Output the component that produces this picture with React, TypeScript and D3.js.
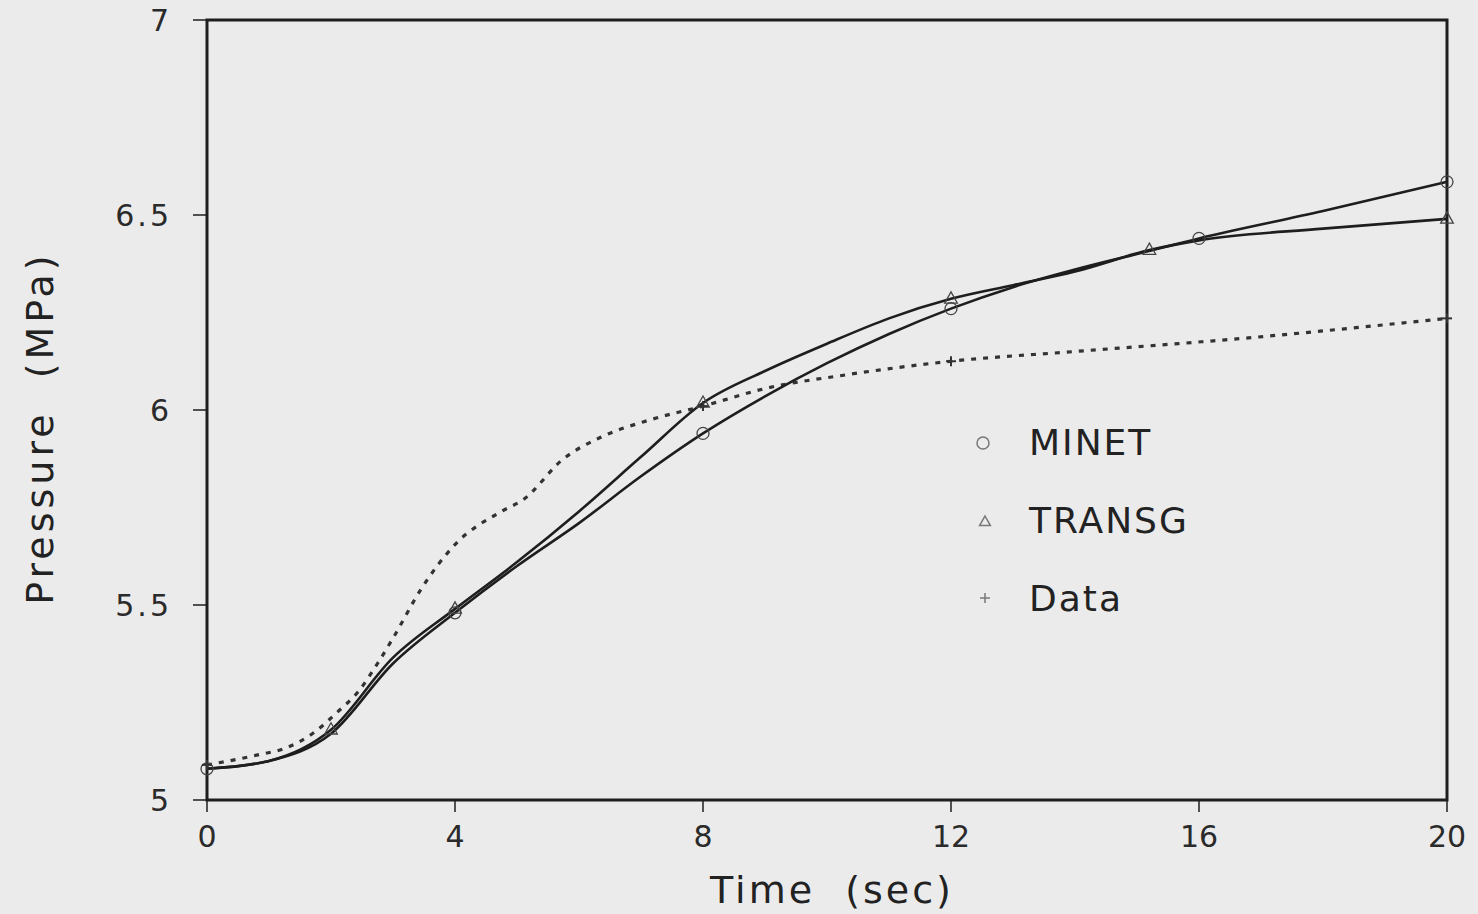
import React from "react";
import * as d3 from "d3";

const xTicks = [0, 4, 8, 12, 16, 20];
const yTicks = [5, 5.5, 6, 6.5, 7];
const yTickLabels = ["5", "5.5", "6", "6.5", "7"];

const minetT = [0, 1, 2, 3, 4, 5, 6, 7, 8, 9, 10, 11, 12, 13, 14, 15, 16, 18, 20];
const minetP = [5.08, 5.1, 5.17, 5.35, 5.48, 5.6, 5.71, 5.83, 5.94, 6.035, 6.12, 6.195, 6.26, 6.315, 6.36, 6.4, 6.44, 6.51, 6.585];
const minetMarkT = [0, 4, 8, 12, 16, 20];

const transgT = [0, 1, 2, 3, 4, 5, 6, 7, 8, 9, 10, 11, 12, 13, 14, 15.2, 16, 18, 20];
const transgP = [5.08, 5.1, 5.18, 5.365, 5.49, 5.61, 5.74, 5.88, 6.018, 6.1, 6.17, 6.235, 6.285, 6.32, 6.355, 6.41, 6.435, 6.465, 6.49];
const transgMarkT = [2, 4, 8, 12, 15.2, 20];

const dataT = [0, 0.8, 1.3, 1.7, 2.1, 2.45, 2.75, 3.0, 3.45, 4, 4.75, 5.1, 5.75, 6.35, 7.15, 8, 9, 10.3, 12, 14, 16.8, 20];
const dataP = [5.09, 5.115, 5.135, 5.17, 5.225, 5.28, 5.35, 5.415, 5.54, 5.655, 5.74, 5.77, 5.875, 5.93, 5.975, 6.01, 6.055, 6.09, 6.125, 6.15, 6.185, 6.235];
const dataMarkT = [0, 8, 12, 20];

const legendLabels = ["MINET", "TRANSG", "Data"];

const W = 1478, H = 914;
const left = 207, right = 1447, top = 20, bottom = 800;

export default function App() {
  const x = d3.scaleLinear().domain([0, 20]).range([left, right]);
  const y = d3.scaleLinear().domain([5, 7]).range([bottom, top]);
  const line = d3
    .line<[number, number]>()
    .x((d) => x(d[0]))
    .y((d) => y(d[1]))
    .curve(d3.curveMonotoneX);
  const zip = (a: number[], b: number[]) => a.map((v, i) => [v, b[i]] as [number, number]);
  const interp = (ts: number[], ps: number[], t: number) => {
    for (let i = 0; i < ts.length - 1; i++) {
      if (t >= ts[i] && t <= ts[i + 1]) {
        const f = (t - ts[i]) / (ts[i + 1] - ts[i]);
        return ps[i] + f * (ps[i + 1] - ps[i]);
      }
    }
    return ps[ps.length - 1];
  };
  const font = "'DejaVu Sans', 'Open Sans', sans-serif";
  const ink = "#1e1e1e";
  const tri = (cx: number, cy: number, r: number) =>
    `M${cx},${cy - r} L${cx + r * 0.9},${cy + r * 0.6} L${cx - r * 0.9},${cy + r * 0.6} Z`;

  return (
    <svg
      width={W}
      height={H}
      style={{ position: "absolute", left: 0, top: 0, background: "#ebebeb" }}
    >
      <rect x={0} y={0} width={W} height={H} fill="#ebebeb" />
      {/* frame */}
      <rect x={left} y={top} width={right - left} height={bottom - top} fill="none" stroke={ink} strokeWidth={3} />
      {/* x ticks */}
      {xTicks.map((t) => (
        <g key={"xt" + t}>
          <line x1={x(t)} x2={x(t)} y1={bottom} y2={bottom + 12} stroke={ink} strokeWidth={1.5} />
          <text x={x(t)} y={847} textAnchor="middle" fontFamily={font} fontSize={30} fill="#2a2a2a">
            {t}
          </text>
        </g>
      ))}
      {/* y ticks */}
      {yTicks.map((v, i) => (
        <g key={"yt" + v}>
          <line x1={left - 14} x2={left} y1={y(v)} y2={y(v)} stroke={ink} strokeWidth={1.5} />
          <text x={172} y={y(v) + 11} textAnchor="end" fontFamily={font} fontSize={30} fill="#2a2a2a" letterSpacing={3}>
            {yTickLabels[i]}
          </text>
        </g>
      ))}
      <text
        x={832}
        y={903}
        textAnchor="middle"
        fontFamily={font}
        fontSize={38}
        fill="#222"
        letterSpacing={3}
        style={{ whiteSpace: "pre" }}
      >
        {"Time  (sec)"}
      </text>
      <text
        transform={`translate(53,428) rotate(-90)`}
        textAnchor="middle"
        fontFamily={font}
        fontSize={38}
        fill="#222"
        letterSpacing={4}
        style={{ whiteSpace: "pre" }}
      >
        {"Pressure  (MPa)"}
      </text>

      {/* lines */}
      <path d={line(zip(dataT, dataP)) || ""} fill="none" stroke="#333" strokeWidth={3.2} strokeDasharray="5,7" />
      <path d={line(zip(minetT, minetP)) || ""} fill="none" stroke={ink} strokeWidth={2.6} />
      <path d={line(zip(transgT, transgP)) || ""} fill="none" stroke={ink} strokeWidth={2.6} />

      {/* markers */}
      {minetMarkT.map((t) => (
        <circle key={"mc" + t} cx={x(t)} cy={y(interp(minetT, minetP, t))} r={6} fill="none" stroke="#444" strokeWidth={1.3} />
      ))}
      {transgMarkT.map((t) => (
        <path key={"tm" + t} d={tri(x(t), y(interp(transgT, transgP, t)), 7)} fill="none" stroke="#444" strokeWidth={1.3} />
      ))}
      {dataMarkT.map((t) => {
        const cx = x(t), cy = y(interp(dataT, dataP, t));
        return (
          <g key={"dm" + t} stroke="#333" strokeWidth={2}>
            <line x1={cx - 5} x2={cx + 5} y1={cy} y2={cy} />
            <line x1={cx} x2={cx} y1={cy - 5} y2={cy + 5} />
          </g>
        );
      })}

      {/* legend */}
      <circle cx={983} cy={443} r={6} fill="none" stroke="#777" strokeWidth={1.5} />
      <path d={tri(985, 522, 6)} fill="none" stroke="#777" strokeWidth={1.5} />
      <g stroke="#777" strokeWidth={1.5}>
        <line x1={980} x2={990} y1={598} y2={598} />
        <line x1={985} x2={985} y1={593} y2={603} />
      </g>
      {legendLabels.map((l, i) => (
        <text key={l} x={1029} y={455 + i * 78} fontFamily={font} fontSize={36} fill="#222" letterSpacing={2}>
          {l}
        </text>
      ))}
    </svg>
  );
}
